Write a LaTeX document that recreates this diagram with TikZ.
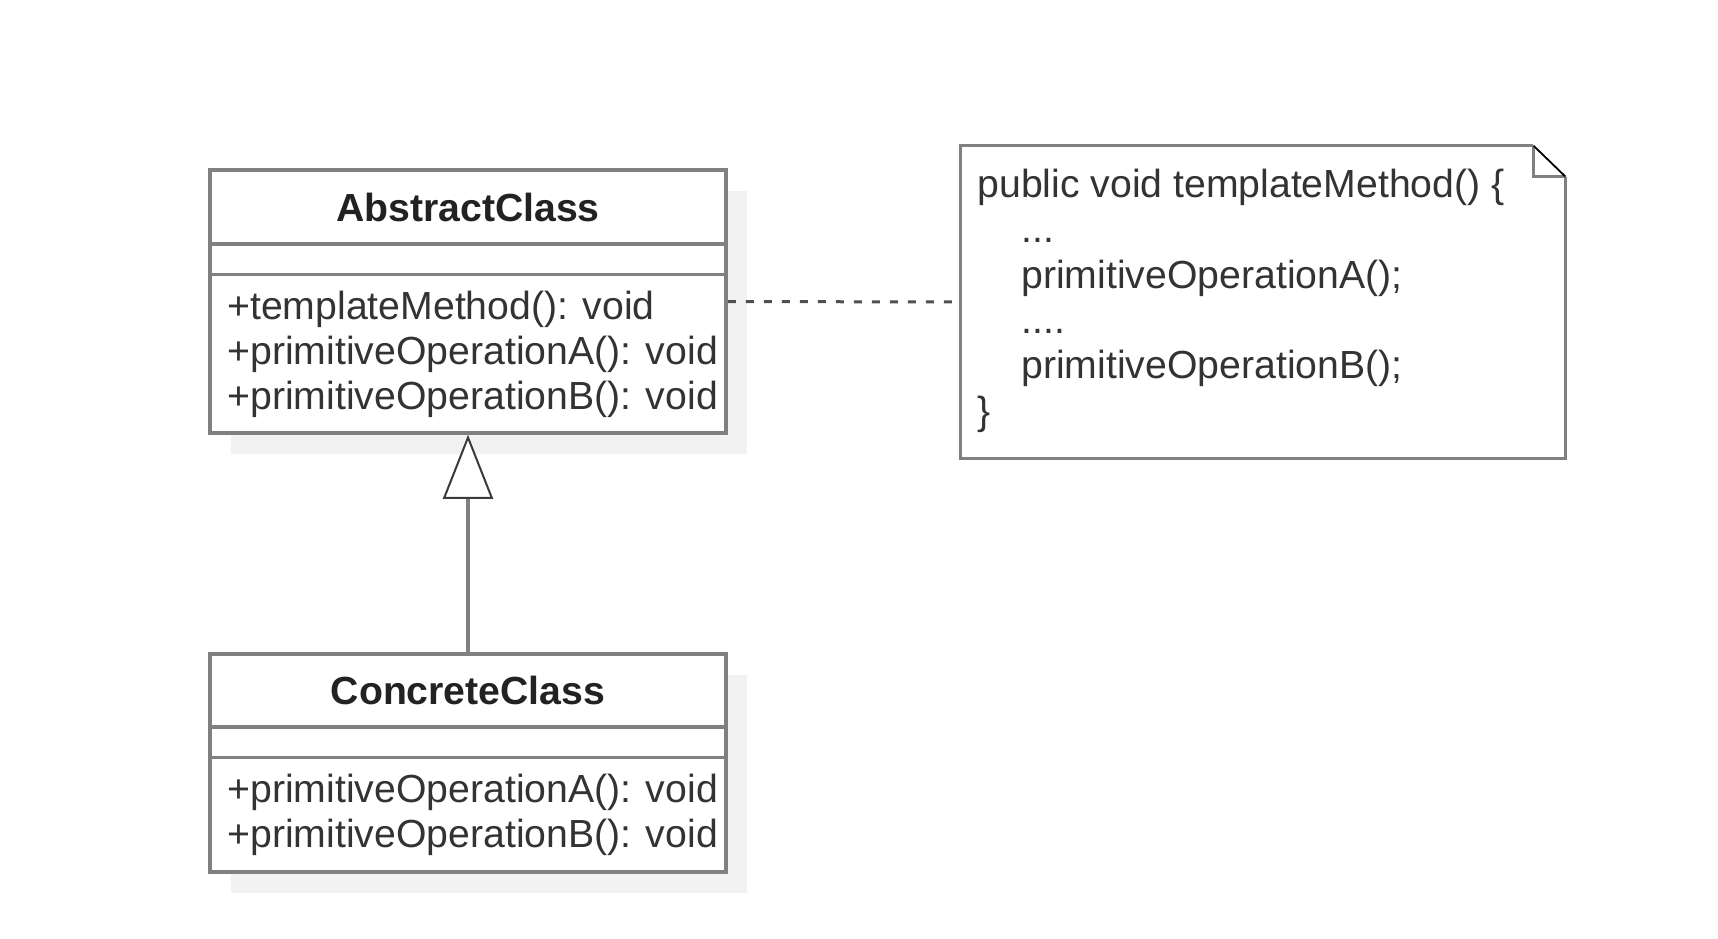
\documentclass[tikz,border=0pt]{standalone}
\usepackage{fontspec}
\setmainfont{Liberation Sans}
\usetikzlibrary{arrows.meta,calc,shadows}
\definecolor{umlline}{HTML}{808080}
\definecolor{umltext}{HTML}{333333}
\definecolor{umltitle}{HTML}{222222}
\definecolor{umlshadow}{HTML}{F2F2F2}
\definecolor{umldark}{HTML}{3A3A3A}
\definecolor{umldash}{HTML}{505050}
\begin{document}
\begin{tikzpicture}[x=0.5pt,y=-0.5pt,
  font=\fontsize{19.6pt}{22.7pt}\selectfont,
  classbox/.style={draw=umlline, line width=1.75pt, fill=white, inner sep=0pt,
    minimum width=258pt,
    drop shadow={shadow xshift=10.5pt, shadow yshift=-10.5pt, fill=umlshadow, opacity=1}},
  divider/.style={draw=umlline, line width=1.75pt},
  classname/.style={anchor=base, inner sep=0pt, text=umltitle, font=\fontsize{19.6pt}{22.7pt}\selectfont\bfseries},
  member/.style={anchor=base west, inner sep=0pt, text=umltext},
  notetext/.style={anchor=base west, inner sep=0pt, text=umltext},
  generalization/.style={draw=umlline, line width=1.75pt,
    -{Triangle[length=32pt, width=25pt, fill=white, color=umldark, line width=1pt]}},
  noteline/.style={draw=umldash, line width=1.5pt, dash pattern=on 4pt off 5pt}
]
\useasboundingbox (0,0) rectangle (1718,938);

% ---- AbstractClass ----
\node[classbox, minimum height=131.5pt] (abs) at (468,301.5) {};
\draw[divider] ($(abs.north west)+(0,75.5)$) -- ($(abs.north east)+(0,75.5)$);
\draw[divider] ($(abs.north west)+(0,106)$) -- ($(abs.north east)+(0,106)$);
\node[classname] (absname) at (468,221) {AbstractClass};
\node[member] (absm1) at (227,319) {+templateMethod(): void};
\node[member] (absm2) at (227,364) {+primitiveOperationA(): void};
\node[member] (absm3) at (227,409) {+primitiveOperationB(): void};

% ---- ConcreteClass ----
\node[classbox, minimum height=109pt] (con) at (468,763) {};
\draw[divider] ($(con.north west)+(0,74.5)$) -- ($(con.north east)+(0,74.5)$);
\draw[divider] ($(con.north west)+(0,105)$) -- ($(con.north east)+(0,105)$);
\node[classname] (conname) at (468,704) {ConcreteClass};
\node[member] (conm1) at (227,802) {+primitiveOperationA(): void};
\node[member] (conm2) at (227,847) {+primitiveOperationB(): void};

% ---- inheritance ----
\draw[generalization] (con.north) -- (abs.south);

% ---- note ----
\node[minimum width=302pt, minimum height=156pt, inner sep=0pt] (note) at (1263,302) {};
\coordinate (foldtop) at ($(note.north east)+(-32,0)$);
\coordinate (foldside) at ($(note.north east)+(0,31)$);
\coordinate (foldin) at ($(note.north east)+(-32,31)$);
\fill[white] (note.north west) -- (foldtop) -- (foldside) -- (note.south east) -- (note.south west) -- cycle;
\draw[umlline, line width=1.75pt, line join=miter]
  (foldtop) -- (note.north west) -- (note.south west) -- (note.south east) -- (foldside);
\draw[umlline, line width=1.75pt] (foldtop) -- (foldin) -- (foldside);
\draw[black, line width=0.9pt] (foldtop) -- (foldside);

\node[notetext] (n1) at (977,197) {public void templateMethod() \{};
\node[notetext] (n2) at (1021,242) {...};
\node[notetext] (n3) at (1021,288) {primitiveOperationA();};
\node[notetext] (n4) at (1021,333) {....};
\node[notetext] (n5) at (1021,378) {primitiveOperationB();};
\node[notetext] (n6) at (977,424) {\}};

% ---- note attachment ----
\draw[noteline] (abs.east) -- (note.west);
\end{tikzpicture}
\end{document}
